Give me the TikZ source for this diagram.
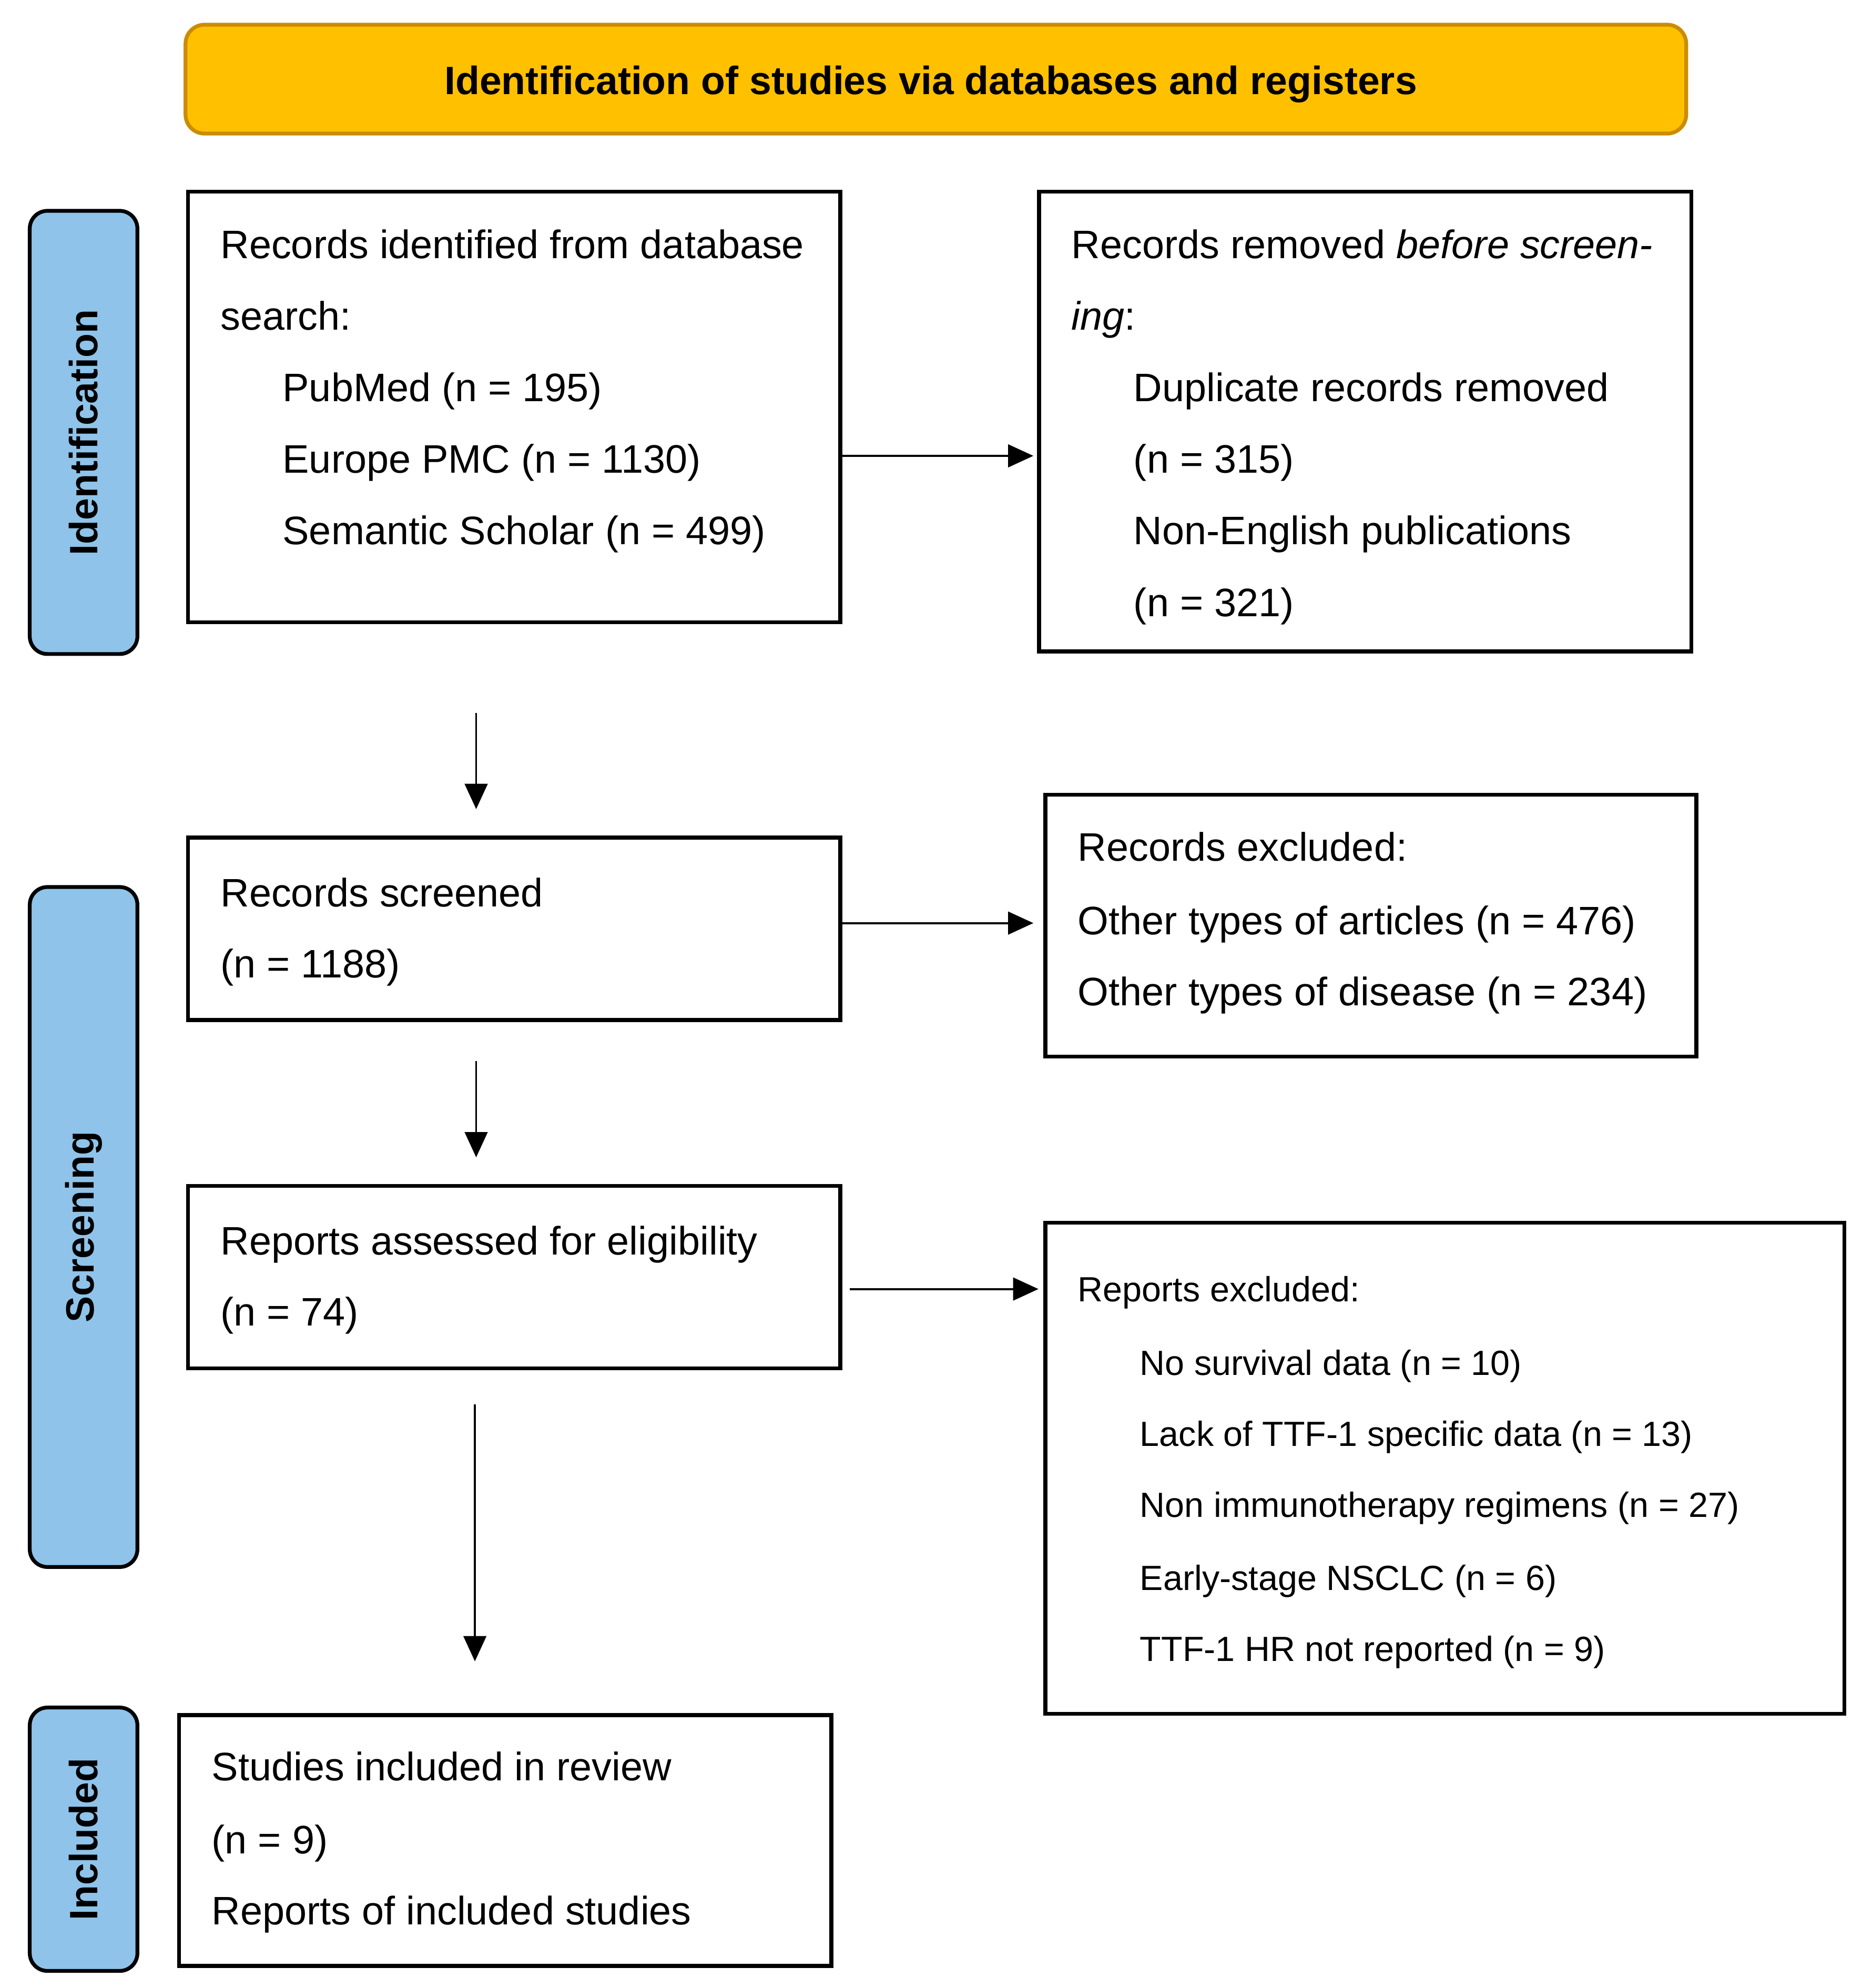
\documentclass[tikz,border=0pt]{standalone}
\usepackage{fontspec}
\setmainfont{Liberation Sans}
\usetikzlibrary{arrows.meta,calc}
\definecolor{bannerfill}{HTML}{FFC000}
\definecolor{bannerdraw}{RGB}{204,140,0}
\definecolor{phasefill}{HTML}{8FC3E9}
\begin{document}
\begin{tikzpicture}[x=1pt,y=-1pt,
  box/.style={draw=black, line width=3pt, anchor=north west, inner sep=0pt},
  phase/.style={draw=black, line width=3pt, rounded corners=14pt, fill=phasefill, anchor=north west, inner sep=0pt},
  phaselabel/.style={rotate=90, inner sep=0pt, font=\fontsize{31.2}{37}\selectfont\bfseries},
  txt/.style={anchor=base west, inner sep=0pt, font=\fontsize{31.4}{37}\selectfont},
  smalltxt/.style={anchor=base west, inner sep=0pt, font=\fontsize{27.6}{33}\selectfont},
  arr/.style={line width=1.6pt, -{Triangle[length=20pt,width=18pt]}}]
\useasboundingbox (0,0) rectangle (1470.3,1570);
% banner
\node[draw=bannerdraw, line width=3pt, fill=bannerfill, rounded corners=15pt, anchor=north west,
  minimum width=1185pt, minimum height=86pt, inner sep=0pt] (banner) at (145,18) {};
\node[inner sep=0pt, anchor=base, font=\fontsize{31.2}{37}\selectfont\bfseries] (bannertxt) at ($(banner.center)+(-4,12)$)
  {Identification of studies via databases and registers};
% phase boxes
\node[phase, minimum width=85pt, minimum height=350pt] (ph1) at (22,165) {};
\node[phase, minimum width=85pt, minimum height=537pt] (ph2) at (22,699) {};
\node[phase, minimum width=85pt, minimum height=208pt] (ph3) at (22,1347) {};
\node[phaselabel] (ph1t) at (ph1.center) {Identification};
\node[phaselabel] (ph2t) at (ph2.center) {Screening};
\node[phaselabel] (ph3t) at (ph3.center) {Included};
% boxes
\node[box, minimum width=515pt, minimum height=340pt] (b1) at (147,150) {};
\node[box, minimum width=515pt, minimum height=363pt] (b2) at (819,150) {};
\node[box, minimum width=515pt, minimum height=144pt] (b3) at (147,660) {};
\node[box, minimum width=514pt, minimum height=207pt] (b4) at (824,626) {};
\node[box, minimum width=515pt, minimum height=144pt] (b5) at (147,935) {};
\node[box, minimum width=631pt, minimum height=388pt] (b6) at (824,964) {};
\node[box, minimum width=515pt, minimum height=198pt] (b7) at (140,1353) {};
% box 1 text
\node[txt] (t11) at (174,204) {Records identified from database};
\node[txt] (t12) at (174,260.5) {search:};
\node[txt] (t13) at (223,317) {PubMed (n = 195)};
\node[txt] (t14) at (223,373.5) {Europe PMC (n = 1130)};
\node[txt] (t15) at (223,430) {Semantic Scholar (n = 499)};
% box 2 text
\node[txt] (t21) at (846,204) {Records removed \textit{before screen-}};
\node[txt] (t22) at (846,260.5) {\textit{ing}:};
\node[txt] (t23) at (895,317) {Duplicate records removed};
\node[txt] (t24) at (895,373.5) {(n = 315)};
\node[txt] (t25) at (895,430) {Non-English publications};
\node[txt] (t26) at (895,487) {(n = 321)};
% box 3 text
\node[txt] (t31) at (174,716) {Records screened};
\node[txt] (t32) at (174,772) {(n = 1188)};
% box 4 text
\node[txt] (t41) at (851,680) {Records excluded:};
\node[txt] (t42) at (851,738) {Other types of articles (n = 476)};
\node[txt] (t43) at (851,794) {Other types of disease (n = 234)};
% box 5 text
\node[txt] (t51) at (174,991) {Reports assessed for eligibility};
\node[txt] (t52) at (174,1047) {(n = 74)};
% box 6 text
\node[smalltxt] (t61) at (851,1028) {Reports excluded:};
\node[smalltxt] (t62) at (900,1086) {No survival data (n = 10)};
\node[smalltxt] (t63) at (900,1142) {Lack of TTF-1 specific data (n = 13)};
\node[smalltxt] (t64) at (900,1198) {Non immunotherapy regimens (n = 27)};
\node[smalltxt] (t65) at (900,1256) {Early-stage NSCLC (n = 6)};
\node[smalltxt] (t66) at (900,1312) {TTF-1 HR not reported (n = 9)};
% box 7 text
\node[txt] (t71) at (167,1406) {Studies included in review};
\node[txt] (t72) at (167,1464) {(n = 9)};
\node[txt] (t73) at (167,1520) {Reports of included studies};
% arrows
\draw[arr] ($(b1.north east)+(0,210)$) -- ($(b2.north west)+(-3,210)$);
\draw[arr] ($(b3.north east)+(0,69)$) -- ($(b4.north west)+(-8,103)$);
\draw[arr] ($(b5.north east)+(6,83)$) -- ($(b6.north west)+(-4,54)$);
\coordinate (d1s) at (376,563);
\coordinate (d1e) at (376,639);
\coordinate (d2s) at (376,838);
\coordinate (d2e) at (376,914);
\coordinate (d3s) at (375,1109);
\coordinate (d3e) at (375,1312);
\draw[arr] (d1s) -- (d1e);
\draw[arr] (d2s) -- (d2e);
\draw[arr] (d3s) -- (d3e);
\end{tikzpicture}
\end{document}
